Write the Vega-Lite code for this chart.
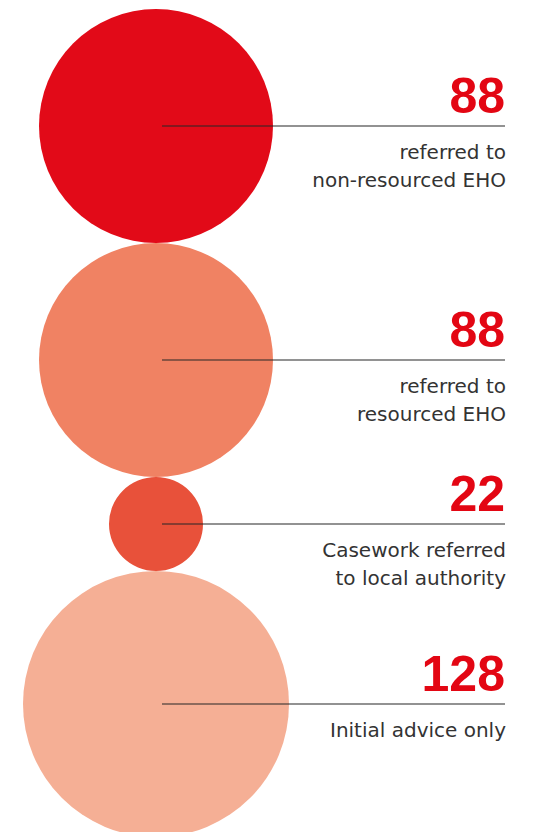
{
  "$schema": "https://vega.github.io/schema/vega-lite/v6.json",
  "width": 545,
  "height": 832,
  "autosize": "none",
  "padding": 0,
  "background": "white",
  "config": {"view": {"stroke": null}},
  "data": {
    "values": [
      {"order": 1, "category": "non-resourced", "value": 88, "label": "referred to\nnon-resourced EHO"},
      {"order": 2, "category": "resourced", "value": 88, "label": "referred to\nresourced EHO"},
      {"order": 3, "category": "local", "value": 22, "label": "Casework referred\nto local authority"},
      {"order": 4, "category": "initial", "value": 128, "label": "Initial advice only"}
    ]
  },
  "transform": [
    {"calculate": "datum.value <= 88 ? sqrt(8836 + (datum.value - 22) * 695.76) / 2 : sqrt(54756 + (datum.value - 88) * 400) / 2", "as": "r"},
    {"calculate": "2 * datum.r", "as": "d"},
    {"window": [{"op": "sum", "field": "d", "as": "cum"}], "sort": [{"field": "order"}], "frame": [null, 0]},
    {"calculate": "datum.cum - datum.r", "as": "cy"}
  ],
  "encoding": {
    "y": {"field": "cy", "type": "quantitative", "scale": {"domain": [-9, 823], "reverse": true, "nice": false, "zero": false}, "axis": null}
  },
  "layer": [
    {
      "mark": {"type": "circle", "opacity": 1, "strokeWidth": 0},
      "encoding": {
        "x": {"datum": 156, "type": "quantitative", "scale": {"domain": [0, 545], "nice": false, "zero": false}, "axis": null},
        "size": {"field": "value", "type": "quantitative", "scale": {"type": "linear", "domain": [22, 88, 128], "range": [8836, 54756, 70756], "zero": false}, "legend": null},
        "color": {"field": "category", "type": "nominal", "scale": {"domain": ["non-resourced", "resourced", "local", "initial"], "range": ["#e20a18", "#f08263", "#e8513a", "#f5af95"]}, "legend": null}
      }
    },
    {
      "mark": {"type": "rule", "color": "#262626", "strokeWidth": 1.1},
      "encoding": {
        "x": {"datum": 162, "type": "quantitative"},
        "x2": {"datum": 505}
      }
    },
    {
      "mark": {"type": "text", "align": "right", "baseline": "alphabetic", "dy": -13, "font": "Liberation Sans", "fontWeight": "bold", "fontSize": 50, "color": "#e30613"},
      "encoding": {
        "x": {"datum": 505, "type": "quantitative"},
        "text": {"field": "value", "type": "quantitative"}
      }
    },
    {
      "mark": {"type": "text", "align": "right", "baseline": "alphabetic", "dy": 33, "font": "DejaVu Sans", "fontSize": 20, "lineHeight": 28, "lineBreak": "\n", "color": "#333333"},
      "encoding": {
        "x": {"datum": 506, "type": "quantitative"},
        "text": {"field": "label", "type": "nominal"}
      }
    }
  ]
}
